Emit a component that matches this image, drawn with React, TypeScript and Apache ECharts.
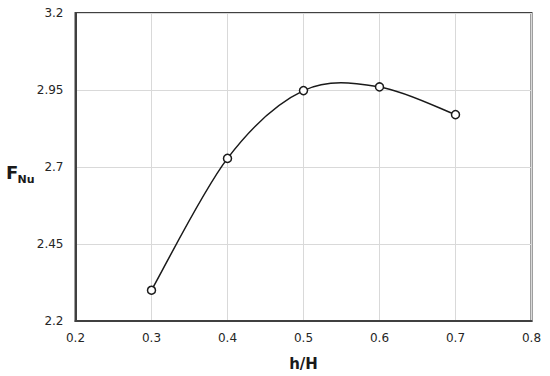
import React, { useEffect, useRef } from "react";
import * as echarts from "echarts";

const xValues = [0.3, 0.4, 0.5, 0.6, 0.7];
const yValues = [2.3, 2.728, 2.948, 2.96, 2.87];
const xTicks = { min: 0.2, max: 0.8, interval: 0.1 };
const yTicks = { min: 2.2, max: 3.2, interval: 0.25 };
const xName = "h/H";

export default function App() {
  const ref = useRef<HTMLDivElement>(null);
  useEffect(() => {
    document.body.style.margin = "0";
    if (!ref.current) return;
    const chart = echarts.init(ref.current, undefined, { renderer: "svg" });
    const font = "DejaVu Sans";
    const pts = xValues.map((x, i) => [x, yValues[i]]);
    chart.setOption({
      animation: false,
      backgroundColor: "#ffffff",
      grid: {
        left: 75.5,
        top: 13,
        width: 456,
        height: 310,
        show: true,
        borderColor: "#404040",
        borderWidth: 2,
        backgroundColor: "transparent",
      },
      xAxis: {
        type: "value",
        min: xTicks.min,
        max: xTicks.max,
        interval: xTicks.interval,
        name: xName,
        nameLocation: "middle",
        nameGap: 35,
        nameTextStyle: { fontFamily: font, fontSize: 15, fontWeight: "bold", color: "#1a1a1a" },
        axisLine: { show: true, lineStyle: { color: "#404040", width: 2 } },
        axisTick: { show: false },
        axisLabel: {
          fontFamily: font,
          fontSize: 12,
          color: "#262626",
          margin: 11,
          formatter: (v: number) => String(Math.round(v * 10) / 10),
        },
        splitLine: { show: true, lineStyle: { color: "#d9d9d9", width: 1 } },
      },
      yAxis: {
        type: "value",
        min: yTicks.min,
        max: yTicks.max,
        interval: yTicks.interval,
        axisLine: { show: true, lineStyle: { color: "#404040", width: 2 } },
        axisTick: { show: false },
        axisLabel: {
          fontFamily: font,
          fontSize: 12,
          color: "#262626",
          margin: 12,
          formatter: (v: number) => String(Math.round(v * 100) / 100),
        },
        splitLine: { show: true, lineStyle: { color: "#d9d9d9", width: 1 } },
      },
      graphic: [
        {
          type: "text",
          x: 6,
          y: 172.5,
          style: {
            text: "F",
            font: `bold 18px "${font}"`,
            fill: "#1a1a1a",
            textVerticalAlign: "middle",
          },
        },
        {
          type: "text",
          x: 17.5,
          y: 179.5,
          style: {
            text: "Nu",
            font: `bold 11px "${font}"`,
            fill: "#1a1a1a",
            textVerticalAlign: "middle",
          },
        },
      ],
      series: [
        {
          type: "custom",
          data: pts,
          z: 2,
          renderItem: (params: any, api: any) => {
            const i = params.dataIndex;
            const n = pts.length;
            if (i >= n - 1) return null;
            const c = pts.map((p) => api.coord(p));
            const p0 = c[Math.max(i - 1, 0)];
            const p1 = c[i];
            const p2 = c[i + 1];
            const p3 = c[Math.min(i + 2, n - 1)];
            return {
              type: "bezierCurve",
              shape: {
                x1: p1[0],
                y1: p1[1],
                x2: p2[0],
                y2: p2[1],
                cpx1: p1[0] + (p2[0] - p0[0]) / 6,
                cpy1: p1[1] + (p2[1] - p0[1]) / 6,
                cpx2: p2[0] - (p3[0] - p1[0]) / 6,
                cpy2: p2[1] - (p3[1] - p1[1]) / 6,
              },
              style: { stroke: "#1a1a1a", lineWidth: 1.5, fill: null },
            };
          },
        },
        {
          type: "scatter",
          data: pts,
          z: 5,
          symbol: "circle",
          symbolSize: 8,
          itemStyle: { color: "#ffffff", borderColor: "#1a1a1a", borderWidth: 1.5, opacity: 1 },
        },
      ],
    });
    return () => chart.dispose();
  }, []);
  return <div ref={ref} style={{ width: 550, height: 376 }} />;
}
